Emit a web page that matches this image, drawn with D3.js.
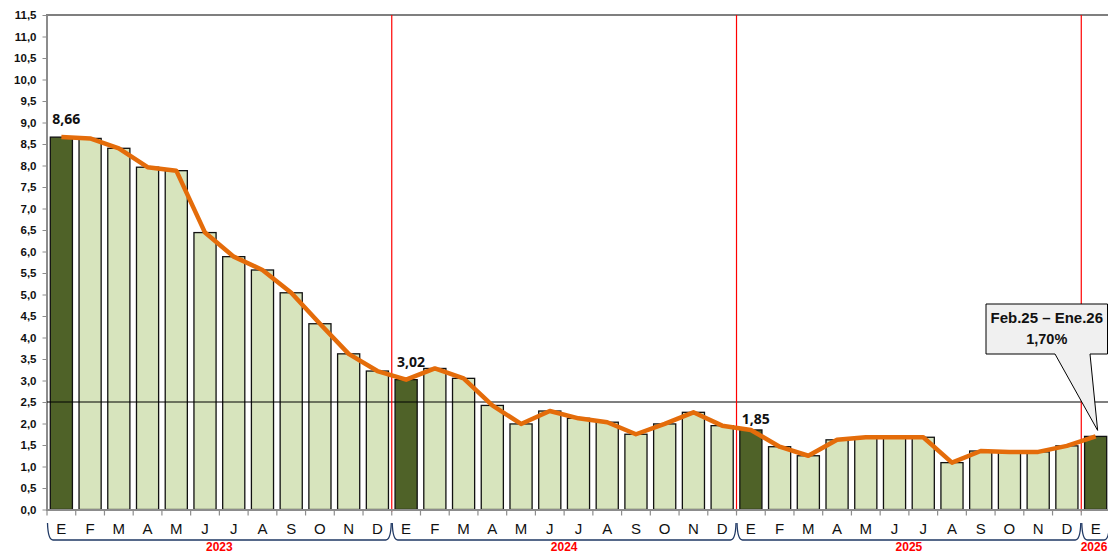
<!DOCTYPE html>
<html>
<head>
<meta charset="utf-8">
<script src="https://cdn.jsdelivr.net/npm/d3@7"></script>
<style>
  body { margin: 0; background: #fff; }
  svg { display: block; font-family: "Liberation Sans", Arial, sans-serif; }
</style>
</head>
<body>
<div id="chart"></div>
<script>
// data
var months = ["E", "F", "M", "A", "M", "J", "J", "A", "S", "O", "N", "D"];
var years = ["2023", "2024", "2025", "2026"];
var infl2023 = [8.66, 8.63, 8.40, 7.96, 7.88, 6.44, 5.88, 5.57, 5.04, 4.32, 3.62, 3.22];
var infl2024 = [3.02, 3.28, 3.05, 2.42, 1.99, 2.29, 2.12, 2.03, 1.75, 1.99, 2.26, 1.95];
var infl2025 = [1.85, 1.46, 1.25, 1.62, 1.68, 1.68, 1.68, 1.09, 1.36, 1.34, 1.34, 1.48];
var infl2026 = [1.70];
var yTicks = [0, 0.5, 1, 1.5, 2, 2.5, 3, 3.5, 4, 4.5, 5, 5.5, 6, 6.5, 7, 7.5, 8, 8.5, 9, 9.5, 10, 10.5, 11, 11.5];
var targetLine = 2.5;
var labelKeys = ["2023-0", "2024-0", "2025-0"];
var calloutText = ["Feb.25 \u2013 Ene.26", "1,70%"];

var series = [infl2023, infl2024, infl2025, infl2026];
var rows = [];
years.forEach(function (yr, i) {
  series[i].forEach(function (v, j) {
    rows.push({ key: yr + "-" + j, year: yr, month: months[j], value: v, first: j === 0 });
  });
});

var W = 1108, H = 554;
var svg = d3.select("#chart").append("svg").attr("width", W).attr("height", H);

var x = d3.scaleBand()
  .domain(rows.map(function (d) { return d.key; }))
  .range([47, 1110])
  .paddingInner(0.23)
  .paddingOuter(0.115);
var step = x.step();
var edge = function (k) { return x(k) - step * 0.115; };
var cx = function (k) { return x(k) + x.bandwidth() / 2; };

var y = d3.scaleLinear().domain([0, 11.5]).range([509.5, 15]);
var comma = function (v, n) { return v.toFixed(n).replace(".", ","); };

// top frame
svg.append("line")
  .attr("x1", 46).attr("x2", W).attr("y1", y(11.5)).attr("y2", y(11.5))
  .attr("stroke", "#000").attr("stroke-width", 1.2);

// y axis
var yAxis = svg.append("g")
  .attr("transform", "translate(46.5,0)")
  .call(d3.axisLeft(y).tickValues(yTicks).tickSize(4).tickSizeOuter(0).tickPadding(6)
    .tickFormat(function (d) { return comma(d, 1); }));
yAxis.select(".domain").attr("stroke", "#8c8c8c").attr("stroke-width", 2);
yAxis.selectAll(".tick line").attr("stroke", "#8c8c8c");
yAxis.selectAll("text")
  .attr("font-family", "Liberation Sans, Arial, sans-serif")
  .attr("font-size", 11.5).attr("font-weight", "bold").attr("fill", "#111");

// bars
svg.selectAll(".bar")
  .data(rows)
  .enter().append("rect")
  .attr("class", "bar")
  .attr("x", function (d) { return x(d.key); })
  .attr("width", x.bandwidth())
  .attr("y", function (d) { return y(d.value); })
  .attr("height", function (d) { return y(0) - y(d.value); })
  .attr("fill", function (d) { return d.first ? "#4f6228" : "#d7e4bd"; })
  .attr("stroke", "#111")
  .attr("stroke-width", 1.3);

// 2,5 reference line
svg.append("line")
  .attr("x1", 47).attr("x2", W)
  .attr("y1", y(targetLine)).attr("y2", y(targetLine))
  .attr("stroke", "#000").attr("stroke-width", 1.2);

// year separators
var yearStarts = rows.filter(function (d) { return d.first && d.year !== years[0]; });
svg.selectAll(".sep")
  .data(yearStarts)
  .enter().append("line")
  .attr("class", "sep")
  .attr("x1", function (d) { return edge(d.key); })
  .attr("x2", function (d) { return edge(d.key); })
  .attr("y1", y(11.5)).attr("y2", y(0) + 2)
  .attr("stroke", "#ff0000").attr("stroke-width", 1.2);

// bottom axis
svg.append("line")
  .attr("x1", 46).attr("x2", W).attr("y1", y(0) + 0.5).attr("y2", y(0) + 0.5)
  .attr("stroke", "#8c8c8c").attr("stroke-width", 2);
svg.selectAll(".xtick")
  .data(rows)
  .enter().append("line")
  .attr("class", "xtick")
  .attr("x1", function (d) { return edge(d.key); })
  .attr("x2", function (d) { return edge(d.key); })
  .attr("y1", y(0)).attr("y2", y(0) + 6)
  .attr("stroke", "#8c8c8c").attr("stroke-width", 1.2);

// month letters
svg.selectAll(".month")
  .data(rows)
  .enter().append("text")
  .attr("class", "month")
  .attr("x", function (d) { return cx(d.key); })
  .attr("y", 534)
  .attr("text-anchor", "middle")
  .attr("font-size", 15)
  .attr("fill", "#111")
  .text(function (d) { return d.month; });

// year braces + labels
var groups = years.map(function (yr) {
  var r = rows.filter(function (d) { return d.year === yr; });
  var x0 = edge(r[0].key), x1 = edge(r[r.length - 1].key) + step;
  return { year: yr, x0: x0, x1: x1 };
});
svg.selectAll(".brace")
  .data(groups)
  .enter().append("path")
  .attr("class", "brace")
  .attr("d", function (g) {
    return "M" + (g.x0 + 0.5) + ",523 Q" + (g.x0 + 1) + ",540 " + (g.x0 + 6) + ",540 L" +
      (g.x1 - 6) + ",540 Q" + (g.x1 - 1) + ",540 " + (g.x1 - 0.5) + ",523";
  })
  .attr("fill", "none").attr("stroke", "#1f3864").attr("stroke-width", 1.3);
svg.selectAll(".year")
  .data(groups)
  .enter().append("text")
  .attr("class", "year")
  .attr("x", function (g) { return Math.min((g.x0 + g.x1) / 2, W - 14); })
  .attr("y", 551)
  .attr("text-anchor", "middle")
  .attr("font-size", 12).attr("font-weight", "bold")
  .attr("fill", "#ff0000")
  .text(function (g) { return g.year; });

// orange line
var line = d3.line()
  .x(function (d) { return cx(d.key); })
  .y(function (d) { return y(d.value); });
svg.append("path")
  .datum(rows)
  .attr("d", line)
  .attr("fill", "none")
  .attr("stroke", "#e46c0a")
  .attr("stroke-width", 4.5)
  .attr("stroke-linejoin", "round");

// value labels
var labelOffsets = { "2023-0": 13, "2024-0": 13, "2025-0": 6 };
svg.selectAll(".vlabel")
  .data(rows.filter(function (d) { return labelKeys.indexOf(d.key) >= 0; }))
  .enter().append("text")
  .attr("class", "vlabel")
  .attr("x", function (d) { return x(d.key) + 2; })
  .attr("y", function (d) { return y(d.value) - labelOffsets[d.key]; })
  .attr("font-family", "Noto Sans, Open Sans, sans-serif")
  .attr("font-size", 14).attr("font-weight", "bold")
  .attr("fill", "#111")
  .text(function (d) { return comma(d.value, 2); });

// callout
var last = rows[rows.length - 1];
var tipX = cx(last.key) + 2, tipY = y(last.value) - 6;
var bx0 = 986, bx1 = 1107.5, by0 = 304, by1 = 354;
svg.append("path")
  .attr("d", "M" + bx0 + "," + by0 + " H" + bx1 + " V" + by1 + " H1090 L" + tipX + "," + tipY +
    " L1055," + by1 + " H" + bx0 + " Z")
  .attr("fill", "#f0f0f0").attr("stroke", "#000").attr("stroke-width", 1);
svg.selectAll(".ctext")
  .data(calloutText)
  .enter().append("text")
  .attr("class", "ctext")
  .attr("x", (bx0 + bx1) / 2)
  .attr("y", function (d, i) { return 323 + i * 21; })
  .attr("text-anchor", "middle")
  .attr("font-size", function (d, i) { return i === 0 ? 15 : 14.5; })
  .attr("font-weight", "bold")
  .attr("fill", "#111")
  .text(function (d) { return d; });
</script>
</body>
</html>
